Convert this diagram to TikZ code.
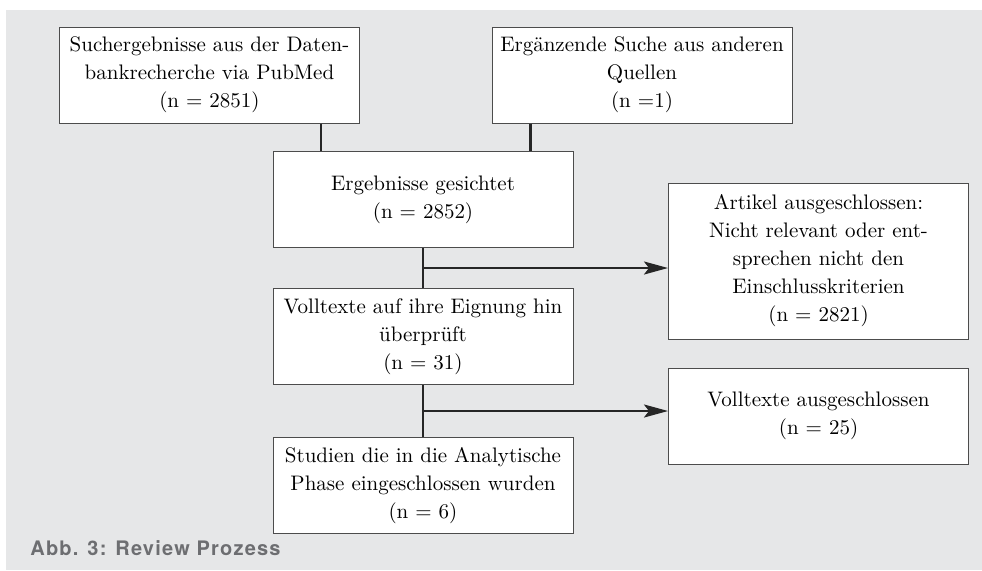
\documentclass[tikz,border=0pt]{standalone}
\usepackage{fontspec}
\usetikzlibrary{arrows.meta, positioning, calc}
\newfontfamily\capfont[LetterSpace=6]{TeX Gyre Heros}
\definecolor{bggray}{HTML}{E6E7E8}
\definecolor{capgray}{HTML}{6D6E71}

\begin{document}
\begin{tikzpicture}[
      x=0.5pt, y=-0.5pt,
      >={Stealth[length=12pt, width=6.5pt, inset=2.5pt]},
      every node/.append style={font=\fontsize{10.5}{14}\selectfont},
      box/.style={rectangle, draw=black!70, line width=0.5pt, fill=white,
                  minimum width=150pt, minimum height=48pt, align=center,
                  inner sep=2pt},
      tallbox/.style={box, minimum height=78pt},
      link/.style={line width=1.2pt, draw=black!85},
    ]
      \useasboundingbox (0,0) rectangle (982,570);
      \fill[bggray] (6,10) rectangle (982,570);

      \node[box] (search) at (209.5,75) {Suchergebnisse aus der Daten-\\bankrecherche via PubMed\\(n = 2851)};
      \node[box] (other) at (642,75) {Ergänzende Suche aus anderen\\Quellen\\(n =1)};
      \node[box] (screen) at (423,199.5) {Ergebnisse gesichtet\\(n = 2852)};
      \node[box] (full) at (423,336.5) {Volltexte auf ihre Eignung hin\\überprüft\\(n = 31)};
      \node[box] (incl) at (423,485.5) {Studien die in die Analytische\\Phase eingeschlossen wurden\\(n = 6)};
      \node[tallbox] (excl1) at (818.5,261) {Artikel ausgeschlossen:\\Nicht relevant oder ent-\\sprechen nicht den\\Einschlusskriterien\\(n = 2821)};
      \node[box] (excl2) at (818.5,416) {Volltexte ausgeschlossen\\(n = 25)};

      \node[anchor=base west, inner sep=0pt, text=capgray,
            font=\capfont\bfseries\fontsize{10}{12}\selectfont] (cap) at (30,555) {Abb. 3: Review Prozess};

      % merge of both searches
      \coordinate (sa) at ([xshift=-19.5pt]search.south east);
      \coordinate (sb) at ([xshift=19.5pt]other.south west);
      \draw[link] (sa) -- (sa |- screen.north);
      \draw[link] (sb) -- (sb |- screen.north);

      % main flow with exclusions
      \coordinate (j1) at ($(screen.south)!0.5!(full.north)$);
      \coordinate (j2) at ($(full.south)!0.5!(incl.north)$);
      \draw[link] (screen.south) -- (full.north);
      \draw[link] (full.south) -- (incl.north);
      \draw[link,->] (j1) -- (j1 -| excl1.west);
      \draw[link,->] (j2) -- (j2 -| excl2.west);
    \end{tikzpicture}
\end{document}
